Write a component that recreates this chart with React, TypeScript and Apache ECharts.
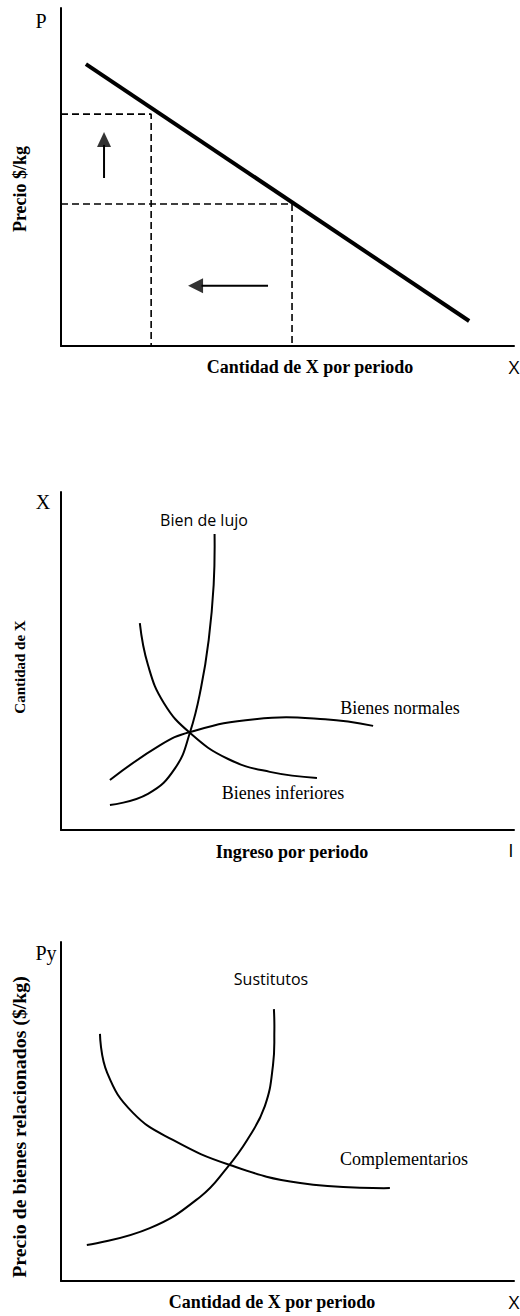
import React, { useEffect, useRef } from "react";
import * as echarts from "echarts";

// ---------- Chart 1: demand curve (units 0-100 on both axes) ----------
const demandLine = [[5.5, 83.4], [90.1, 7.4]];
const guideHigh = [[0, 68.6], [19.9, 68.6], [19.9, 0]];
const guideLow = [[0, 42.0], [51.0, 42.0], [51.0, 0]];
const arrowUpShaft = [[9.5, 49.7], [9.5, 59.5]];
const arrowUpHead = [[9.5, 61.1]];
const arrowLeftShaft = [[45.7, 17.8], [31.0, 17.8]];
const arrowLeftHead = [[29.7, 17.8]];

// ---------- Chart 2: income curves ----------
const luxuryCurve = [
  [10.8, 7.4], [19.2, 10.7], [25.2, 18.3], [28.5, 29.0], [30.9, 42.0], [32.6, 56.2],
  [33.7, 72.5], [33.9, 87.6],
];
const inferiorCurve = [
  [17.4, 61.2], [19.2, 48.8], [22.7, 37.6], [28.5, 28.7], [36.9, 21.0], [46.1, 17.2], [56.5, 15.4],
];
const normalCurve = [
  [10.8, 14.8], [21.9, 25.1], [28.5, 29.0], [42.8, 32.8], [58.3, 32.8], [68.9, 30.8],
];

// ---------- Chart 3: related goods ----------
const substitutesCurve = [
  [5.7, 10.6], [19.6, 15.6], [30.7, 24.8], [36.6, 33.3], [41.1, 41.6], [45.0, 51.6],
  [46.8, 63.7], [47.1, 74.0], [47.0, 80.2],
];
const complementsCurve = [
  [8.6, 72.9], [10.2, 61.4], [15.9, 49.6], [24.7, 41.6], [37.3, 34.2], [52.8, 28.9], [72.6, 27.4],
];

// ---------- Labels ----------
const chart1Labels = { yTop: "P", yTitle: "Precio $/kg", xTitle: "Cantidad de X por periodo", xEnd: "X" };
const chart2Labels = {
  yTop: "X", yTitle: "Cantidad de X", xTitle: "Ingreso por periodo", xEnd: "I",
  luxury: "Bien de lujo", normal: "Bienes normales", inferior: "Bienes inferiores",
};
const chart3Labels = {
  yTop: "Py", yTitle: "Precio de bienes relacionados ($/kg)", xTitle: "Cantidad de X por periodo", xEnd: "X",
  substitutes: "Sustitutos", complements: "Complementarios",
};

const SERIF = '"Liberation Serif", "Times New Roman", serif';
const SANS = '"Open Sans", "Liberation Sans", sans-serif';

function txt(text: string, x: number, y: number, font: string, extra: any = {}) {
  return {
    type: "text",
    x,
    y,
    silent: true,
    ...extra,
    style: {
      text,
      font,
      fill: "#000",
      align: "center",
      verticalAlign: "middle",
      textAlign: "center",
      textVerticalAlign: "middle",
    },
  };
}

export default function App() {
  const ref = useRef<HTMLDivElement>(null);

  useEffect(() => {
    if (!ref.current) return;
    const chart = echarts.init(ref.current, null, { renderer: "svg" });

    const grids = [
      { left: 61, top: 8, width: 453, height: 338 },
      { left: 61, top: 492, width: 453, height: 338 },
      { left: 61, top: 942, width: 453, height: 339 },
    ];

    const axisBase = {
      type: "value",
      min: 0,
      max: 100,
      axisLine: { show: true, onZero: false, lineStyle: { color: "#000", width: 2 } },
      axisTick: { show: false },
      axisLabel: { show: false },
      splitLine: { show: false },
    };

    const straight = (data: number[][], idx: number, width = 2, extra: any = {}) => ({
      type: "line",
      xAxisIndex: idx,
      yAxisIndex: idx,
      data,
      symbol: "none",
      silent: true,
      lineStyle: { color: "#000", width },
      ...extra,
    });

    // smooth curve through the data points, positioned via the axes (api.coord)
    const smoothCurve = (data: number[][], idx: number) => ({
      type: "custom",
      xAxisIndex: idx,
      yAxisIndex: idx,
      data,
      silent: true,
      encode: { x: 0, y: 1 },
      renderItem: (params: any, api: any) => {
        if (params.dataIndex !== 0) return null;
        const pts = data.map((d) => api.coord(d));
        return {
          type: "polyline",
          shape: { points: pts, smooth: 0.45 },
          style: { stroke: "#000", lineWidth: 2, fill: "none" },
        };
      },
    });

    const dashed = { lineStyle: { color: "#000", width: 1.6, type: [7, 4] } };

    chart.setOption({
      animation: false,
      backgroundColor: "#fff",
      grid: grids,
      xAxis: grids.map((_, i) => ({ ...axisBase, gridIndex: i })),
      yAxis: grids.map((_, i) => ({ ...axisBase, gridIndex: i })),
      series: [
        straight(demandLine, 0, 4),
        straight(guideHigh, 0, 1.6, dashed),
        straight(guideLow, 0, 1.6, dashed),
        straight(arrowUpShaft, 0, 2),
        straight(arrowLeftShaft, 0, 2),
        {
          type: "scatter",
          xAxisIndex: 0,
          yAxisIndex: 0,
          data: arrowUpHead,
          symbol: "triangle",
          symbolSize: [14, 15],
          symbolRotate: 0,
          itemStyle: { color: "#000" },
          silent: true,
        },
        {
          type: "scatter",
          xAxisIndex: 0,
          yAxisIndex: 0,
          data: arrowLeftHead,
          symbol: "triangle",
          symbolSize: [15, 15],
          symbolRotate: 90,
          itemStyle: { color: "#000" },
          silent: true,
        },
        smoothCurve(luxuryCurve, 1),
        smoothCurve(inferiorCurve, 1),
        smoothCurve(normalCurve, 1),
        smoothCurve(substitutesCurve, 2),
        smoothCurve(complementsCurve, 2),
      ],
      graphic: [
        // chart 1
        txt(chart1Labels.yTop, 41, 21, `20px ${SERIF}`),
        txt(chart1Labels.yTitle, 20, 189, `bold 18px ${SERIF}`, { rotation: Math.PI / 2 }),
        txt(chart1Labels.xTitle, 310, 367, `bold 18px ${SERIF}`),
        txt(chart1Labels.xEnd, 514, 367, `19px ${SANS}`),
        // chart 2
        txt(chart2Labels.yTop, 43, 502, `20px ${SERIF}`),
        txt(chart2Labels.yTitle, 20, 667, `bold 15px ${SERIF}`, { rotation: Math.PI / 2 }),
        txt(chart2Labels.luxury, 204, 520, `16px ${SANS}`),
        txt(chart2Labels.normal, 400, 708, `18px ${SERIF}`),
        txt(chart2Labels.inferior, 283, 793, `18px ${SERIF}`),
        txt(chart2Labels.xTitle, 292, 852, `bold 18px ${SERIF}`),
        txt(chart2Labels.xEnd, 511, 850, `19px ${SANS}`),
        // chart 3
        txt(chart3Labels.yTop, 46, 953, `20px ${SERIF}`),
        txt(chart3Labels.yTitle, 20, 1127, `bold 18px ${SERIF}`, { rotation: Math.PI / 2, scaleX: 1.1 }),
        txt(chart3Labels.substitutes, 271, 979, `16px ${SANS}`),
        txt(chart3Labels.complements, 404, 1159, `18px ${SERIF}`),
        txt(chart3Labels.xTitle, 272, 1302, `bold 18px ${SERIF}`),
        txt(chart3Labels.xEnd, 514, 1302, `19px ${SANS}`),
      ],
    });

    return () => chart.dispose();
  }, []);

  return (
    <div
      ref={ref}
      style={{ position: "absolute", left: 0, top: 0, width: 520, height: 1316, background: "#fff" }}
    />
  );
}
